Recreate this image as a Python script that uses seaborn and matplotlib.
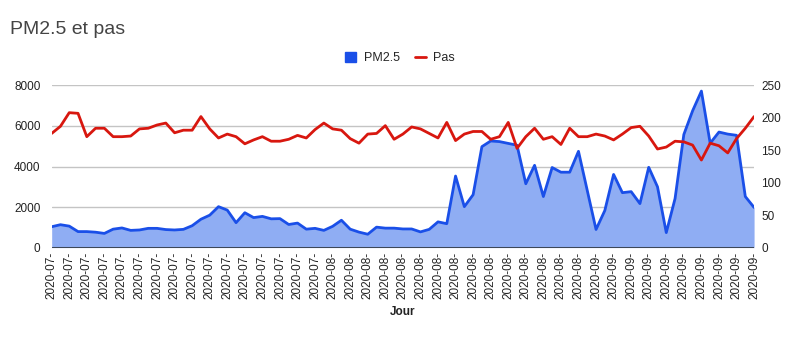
import pandas as pd
import matplotlib.pyplot as plt
import seaborn as sns
from matplotlib.patches import Patch
from matplotlib.lines import Line2D

# one value per day, 2020-07-01 .. 2020-09-19
jours = pd.date_range("2020-07-01", "2020-09-19", freq="D")

pm25 = [1030, 1130, 1060, 790, 790, 760, 700, 910, 970, 850,
        870, 950, 950, 890, 870, 900, 1080, 1400, 1600, 2020,
        1850, 1230, 1720, 1480, 1540, 1420, 1430, 1140, 1210, 910,
        950, 850, 1050, 1350, 910, 765, 660, 1010, 960, 960,
        920, 920, 775, 900, 1270, 1180, 3530, 2020, 2610, 4980,
        5260, 5230, 5140, 5050, 3150, 4060, 2520, 3950, 3720, 3720,
        4750, 2820, 895, 1830, 3610, 2710, 2760, 2170, 3960, 3000,
        740, 2420, 5580, 6750, 7720, 5150, 5700, 5600, 5540, 2520,
        1980]

pas = [176, 187, 208, 207, 171, 184, 184, 171, 171, 172,
       183, 184, 189, 192, 177, 181, 181, 202, 183, 169,
       175, 171, 160, 166, 171, 164, 164, 167, 173, 169,
       182, 192, 183, 181, 168, 161, 175, 176, 188, 167,
       175, 186, 183, 176, 169, 193, 165, 175, 179, 179,
       167, 171, 193, 153, 171, 184, 167, 171, 159, 184,
       171, 171, 175, 172, 166, 175, 185, 187, 172, 152,
       155, 164, 163, 158, 135, 161, 157, 146, 168, 184,
       202]

tick_jours = jours[::2]
tick_labels = [d.strftime("%Y-%m-") for d in tick_jours]  # labels are cut off in the original

left_ticks = [0, 2000, 4000, 6000, 8000]
right_ticks = [0, 50, 100, 150, 200, 250]

df = pd.DataFrame({"Jour": jours, "PM2.5": pm25, "Pas": pas})

blue = "#1a4fe8"
blue_fill = "#8fadf3"
red = "#d8170f"
txt = "#222222"

sns.set_theme(style="white")
plt.rcParams["font.family"] = ["Liberation Sans", "DejaVu Sans"]

fig, ax = plt.subplots(figsize=(8, 3.62), dpi=100)
fig.subplots_adjust(left=0.0646, right=0.9426, top=0.764, bottom=0.316)

ax.fill_between(df["Jour"], df["PM2.5"], color=blue_fill, lw=0, zorder=1)
sns.lineplot(data=df, x="Jour", y="PM2.5", ax=ax, color=blue, lw=2, zorder=2)
ax.set_ylim(0, 8000)
ax.set_xlim(jours[0], jours[-1])
ax.set_yticks(left_ticks)
ax.yaxis.grid(True, color="#c4c4c4", lw=1)
ax.set_axisbelow(True)
ax.axhline(0, color="#3d4758", lw=2.2, zorder=3)

ax2 = ax.twinx()
sns.lineplot(data=df, x="Jour", y="Pas", ax=ax2, color=red, lw=2)
ax2.set_ylim(0, 250)
ax2.set_yticks(right_ticks)
ax2.grid(False)

ax.set_xticks(tick_jours)
ax.set_xticklabels(tick_labels, rotation=90, fontsize=8.5, color=txt)
ax.tick_params(axis="x", length=0, pad=3)
ax.tick_params(axis="y", length=0, pad=8, labelsize=8.5, labelcolor=txt)
ax2.tick_params(axis="y", length=0, pad=5, labelsize=8.5, labelcolor=txt)

for a in (ax, ax2):
    for s in a.spines.values():
        s.set_visible(False)
    a.set_ylabel("")

ax.set_xlabel("Jour", fontsize=8.5, fontweight="bold", color=txt)
ax.xaxis.set_label_coords(0.5, -0.36)

fig.text(0.0125, 1 - 30 / 362, "PM2.5 et pas", fontsize=14, color="#444444", va="center")

handles = [Patch(facecolor=blue, edgecolor=blue, label="PM2.5"),
           Line2D([0], [0], color=red, lw=2, label="Pas")]
fig.legend(handles=handles, loc="center", bbox_to_anchor=(0.5, 1 - 58 / 362), ncol=2,
           frameon=False, fontsize=9, handlelength=0.9, handleheight=0.9,
           columnspacing=1.2, handletextpad=0.6)

fig.savefig("out.png", dpi=100)
